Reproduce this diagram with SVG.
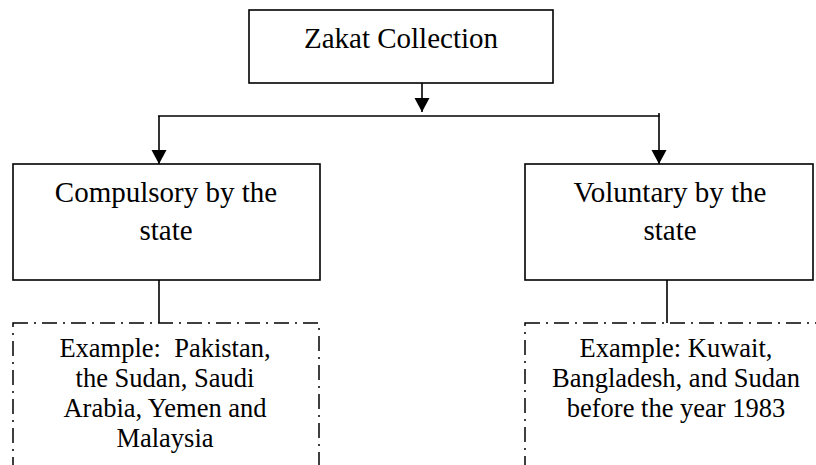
<svg xmlns="http://www.w3.org/2000/svg" width="816" height="465" viewBox="0 0 816 465">
  <style>
    .box { fill: #ffffff; stroke: #000000; stroke-width: 1.6; }
    .dash { fill: none; stroke: #000000; stroke-width: 1.5; stroke-dasharray: 15 6 2 6; }
    .wire { fill: none; stroke: #000000; stroke-width: 1.6; }
    .title { font-family: "Liberation Serif", "Times New Roman", serif; font-size: 29px; fill: #000000; text-anchor: middle; }
    .note { font-family: "Liberation Serif", "Times New Roman", serif; font-size: 26.5px; fill: #000000; text-anchor: middle; }
  </style>
  <defs>
    <marker id="arrow" markerUnits="userSpaceOnUse" markerWidth="16" markerHeight="16" viewBox="0 0 16 16" refX="14" refY="8" orient="auto">
      <path d="M0,0.5 L14,8 L0,15.5 Z" fill="#000000"/>
    </marker>
  </defs>
  <rect width="816" height="465" fill="#ffffff"/>

  <g id="connectors">
    <line class="wire" x1="422" y1="83" x2="422" y2="112" marker-end="url(#arrow)"/>
    <line class="wire" x1="158" y1="116" x2="659.5" y2="116"/>
    <line class="wire" x1="159" y1="116" x2="159" y2="164" marker-end="url(#arrow)"/>
    <line class="wire" x1="659" y1="113" x2="659" y2="164" marker-end="url(#arrow)"/>
    <line class="wire" x1="159" y1="280" x2="159" y2="323"/>
    <line class="wire" x1="667" y1="280" x2="667" y2="323"/>
  </g>

  <g id="zakat-collection">
    <rect class="box" x="249" y="10" width="304" height="73"/>
    <text class="title" x="401" y="48">Zakat Collection</text>
  </g>

  <g id="compulsory">
    <rect class="box" x="13" y="164" width="307" height="116"/>
    <text class="title" x="166" y="202">Compulsory by the</text>
    <text class="title" x="166" y="240">state</text>
  </g>

  <g id="voluntary">
    <rect class="box" x="525" y="164" width="288" height="116"/>
    <text class="title" x="670" y="202">Voluntary by the</text>
    <text class="title" x="670" y="240">state</text>
  </g>

  <g id="compulsory-examples">
    <rect class="dash" x="13" y="323" width="306" height="160"/>
    <text class="note" x="165" y="357">Example:&#160; Pakistan,</text>
    <text class="note" x="165" y="387">the Sudan, Saudi</text>
    <text class="note" x="165" y="417">Arabia, Yemen and</text>
    <text class="note" x="165" y="447">Malaysia</text>
  </g>

  <g id="voluntary-examples">
    <rect class="dash" x="525" y="323" width="320" height="160"/>
    <text class="note" x="676" y="357">Example: Kuwait,</text>
    <text class="note" x="676" y="387">Bangladesh, and Sudan</text>
    <text class="note" x="676" y="417">before the year 1983</text>
  </g>
</svg>
